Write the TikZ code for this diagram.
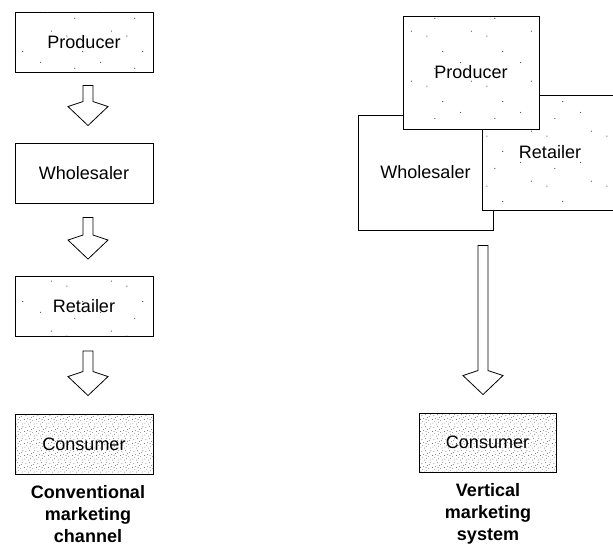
\documentclass[tikz,border=0pt]{standalone}
\usepackage{fontspec}
\setsansfont{Liberation Sans}
\usetikzlibrary{calc,patterns}

% light speckle, as on the scanned boxes
\pgfdeclarepatternformonly{speckle}{\pgfpointorigin}{\pgfpoint{60pt}{50pt}}{\pgfpoint{60pt}{50pt}}{%
  \foreach \px/\py in {7/9,41/33,23/44,52/14,15/27}
    {\pgfpathcircle{\pgfpoint{\px pt}{\py pt}}{0.6pt}\pgfusepath{fill}}}
% dense stipple for the consumer
\pgfdeclarepatternformonly{stipple}{\pgfpointorigin}{\pgfpoint{12pt}{12pt}}{\pgfpoint{12pt}{12pt}}{%
  \foreach \px/\py in {1/2,4/7,7/3,10/9,2/10,6/11,9/5,11/1,3/4,8/8,5/1,0.5/6,11.5/11,6.5/6}
    {\pgfpathcircle{\pgfpoint{\px pt}{\py pt}}{0.45pt}\pgfusepath{fill}}}

\tikzset{
  stage/.style={draw, line width=0.9pt, preaction={fill=white},
    font=\sffamily\fontsize{18}{21}\selectfont, inner sep=0pt},
  flat/.style={stage, minimum width=138pt, minimum height=60pt},
  speckled/.style={pattern=speckle, pattern color=black!75},
  stippled/.style={pattern=stipple, pattern color=black!70},
  caption/.style={align=center, font=\sffamily\bfseries\fontsize{18}{22}\selectfont},
  arrowline/.style={draw, line width=0.8pt, line join=miter}
}

% hollow block arrow from #1 (top of shaft) down to #2 (tip)
\newcommand\flowarrow[2]{%
  \draw[arrowline] let \p1=#1, \p2=#2 in
    (\x1-5pt,\y1) -- (\x1+5pt,\y1) -- (\x1+5pt,\y2+24pt) -- (\x1+20pt,\y2+19pt)
    -- (\x1,\y2) -- (\x1-20pt,\y2+19pt) -- (\x1-5pt,\y2+24pt) -- cycle;}

\begin{document}
\begin{tikzpicture}[x=1pt, y=-1pt]
        \clip (0,0) rectangle (613,545);
        % conventional channel
        \node[flat, speckled] (conv-prod) at (84,42) {Producer};
        \node[flat] (conv-whole) at (84,173) {Wholesaler};
        \node[flat, speckled] (conv-retail) at (84,306.5) {Retailer};
        \node[flat, stippled] (conv-cons) at (84,444) {Consumer};
        \flowarrow{($(conv-prod.south)+(4,13)$)}{($(conv-whole.north)+(4,-17)$)}
        \flowarrow{($(conv-whole.south)+(4,14)$)}{($(conv-retail.north)+(4,-17)$)}
        \flowarrow{($(conv-retail.south)+(4,14)$)}{($(conv-cons.north)+(4,-18)$)}
        \node[caption] (conv-text) at (88,514) {Conventional\\marketing\\channel};
        % vertical system, overlapping boxes
        \node[stage, minimum width=135pt, minimum height=115pt] (vert-whole) at (425.5,172.5) {Wholesaler};
        \node[stage, speckled, minimum width=136pt, minimum height=115pt] (vert-retail) at (550,152.5) {Retailer};
        \node[stage, speckled, minimum width=136pt, minimum height=113pt] (vert-prod) at (471,72.5) {Producer};
        \node[stage, stippled, minimum width=137pt, minimum height=59pt] (vert-cons) at (487.5,442.5) {Consumer};
        \flowarrow{($(vert-cons.north |- vert-whole.south)+(-4.5,15)$)}{($(vert-cons.north)+(-4.5,-18)$)}
        \node[caption] (vert-text) at (488,514) {Vertical\\marketing\\system};
\end{tikzpicture}
\end{document}
